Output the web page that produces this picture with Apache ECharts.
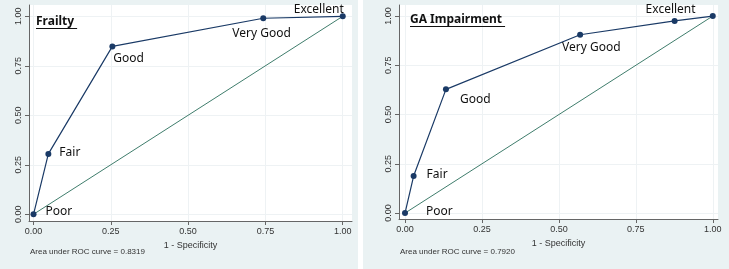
<!DOCTYPE html>
<html>
<head>
<meta charset="utf-8">
<script src="https://cdn.jsdelivr.net/npm/echarts@6/dist/echarts.min.js"></script>
<style>
  body { margin: 0; background: #fff; }
  .panel { position: absolute; top: 0; height: 269px; }
</style>
</head>
<body>
<div id="rocFrailty" class="panel" style="left:0;width:358px"></div>
<div id="rocGA" class="panel" style="left:363px;width:366px"></div>
<script>
// tick labels shared by both panels
var tickValues = [0, 0.25, 0.5, 0.75, 1];

// Frailty: 1 - specificity / sensitivity for each cut point
var frailtyX = [0, 0.048, 0.255, 0.743, 1];
var frailtyY = [0, 0.305, 0.848, 0.990, 1];
var frailtyNames = ['Poor', 'Fair', 'Good', 'Very Good', 'Excellent'];
var frailtyAuc = '0.8319';

// GA impairment
var gaX = [0, 0.028, 0.133, 0.569, 0.876, 1];
var gaY = [0, 0.188, 0.628, 0.905, 0.975, 1];
var gaNames = ['Poor', 'Fair', 'Good', 'Very Good', 'Excellent', ''];
var gaAuc = '0.7920';

// reference (chance) line
var refX = [0, 1];
var refY = [0, 1];

function textWidth(txt, font) {
    var c = document.createElement('canvas').getContext('2d');
    c.font = font;
    return c.measureText(txt).width;
}

function rocChart(mid, cfg) {
    var chart = echarts.init(document.getElementById(mid));
    var pts = cfg.xs.map(function (x, i) {
        var item = { value: [x, cfg.ys[i]], name: cfg.names[i] };
        if (cfg.names[i]) {
            item.label = { show: true, offset: cfg.labelOffsets[i] };
        }
        return item;
    });
    var ref = refX.map(function (x, i) { return [x, refY[i]]; });
    var titleFont = 'bold 12px "Noto Sans"';
    var tw = textWidth(cfg.title, titleFont);
    var tx = cfg.titlePos[0], ty = cfg.titlePos[1];

    var option = {
        backgroundColor: '#eaf2f3',
        animation: false,
        grid: {
            show: true,
            backgroundColor: '#fff',
            borderWidth: 0,
            left: cfg.grid.left,
            width: cfg.grid.width,
            top: 5,
            bottom: cfg.grid.bottom
        },
        graphic: [
            {
                type: 'text',
                z: 10,
                style: {
                    x: tx, y: ty,
                    text: cfg.title,
                    font: titleFont,
                    fill: '#111',
                    verticalAlign: 'middle'
                }
            },
            {
                type: 'rect',
                z: 10,
                shape: { x: tx, y: ty + 6, width: tw + 3, height: 1 },
                style: { fill: '#111' }
            },
            {
                type: 'text',
                style: {
                    x: cfg.aucPos[0], y: cfg.aucPos[1],
                    text: 'Area under ROC curve = ' + cfg.auc,
                    font: '8px "Liberation Sans"',
                    fill: '#333',
                    verticalAlign: 'middle'
                }
            }
        ],
        xAxis: {
            type: 'value',
            min: cfg.xRange[0],
            max: cfg.xRange[1],
            name: '1 - Specificity',
            nameLocation: 'middle',
            nameGap: 19,
            nameTextStyle: { fontFamily: 'Liberation Sans', fontSize: 9, color: '#333' },
            axisLine: { show: true, onZero: false, lineStyle: { color: '#666', width: 1 } },
            axisTick: { show: true, length: 4, customValues: tickValues, lineStyle: { color: '#666' } },
            axisLabel: {
                customValues: tickValues,
                margin: 6,
                fontFamily: 'Liberation Sans',
                fontSize: 9,
                color: '#333',
                formatter: function (v) { return v.toFixed(2); }
            },
            splitLine: { show: true, lineStyle: { color: '#eef2f4' } }
        },
        yAxis: {
            type: 'value',
            min: cfg.yRange[0],
            max: cfg.yRange[1],
            axisLine: { show: true, onZero: false, lineStyle: { color: '#666', width: 1 } },
            axisTick: { show: true, length: 4, customValues: tickValues, lineStyle: { color: '#666' } },
            axisLabel: {
                customValues: tickValues,
                rotate: 90,
                margin: 6,
                fontFamily: 'Liberation Sans',
                fontSize: 9,
                color: '#333',
                formatter: function (v) { return v.toFixed(2); }
            },
            splitLine: { show: true, lineStyle: { color: '#eef2f4' } }
        },
        series: [
            {
                type: 'line',
                data: ref,
                showSymbol: false,
                silent: true,
                lineStyle: { color: '#3f7d6c', width: 1 },
                z: 2
            },
            {
                type: 'line',
                data: pts,
                symbol: 'circle',
                symbolSize: 6,
                itemStyle: { color: '#1a3a66' },
                lineStyle: { color: '#1a3a66', width: 1.2 },
                label: {
                    show: false,
                    position: 'inside',
                    align: 'left',
                    verticalAlign: 'middle',
                    formatter: '{b}',
                    fontFamily: 'Noto Sans',
                    fontSize: 12,
                    color: '#111'
                },
                z: 3
            }
        ]
    };
    chart.setOption(option);
    window.addEventListener('resize', function () { chart.resize(); });
}

rocChart('rocFrailty', {
    xs: frailtyX, ys: frailtyY, names: frailtyNames, auc: frailtyAuc, title: 'Frailty',
    labelOffsets: [[12, -3], [11, -1], [1, 12], [-31, 15], [-49, -7]],
    grid: { left: 29, width: 323, bottom: 48 },
    xRange: [-0.0146, 1.03], yRange: [-0.034, 1.057],
    titlePos: [36, 22], aucPos: [30, 252]
});

rocChart('rocGA', {
    xs: gaX, ys: gaY, names: gaNames, auc: gaAuc, title: 'GA Impairment',
    labelOffsets: [[21, -2], [13, -1], [14, 10], [-18, 13], [-29, -11], [0, 0]],
    grid: { left: 36, width: 319, bottom: 50 },
    xRange: [-0.0195, 1.017], yRange: [-0.030, 1.056],
    titlePos: [47, 20], aucPos: [37, 252]
});
</script>
</body>
</html>
